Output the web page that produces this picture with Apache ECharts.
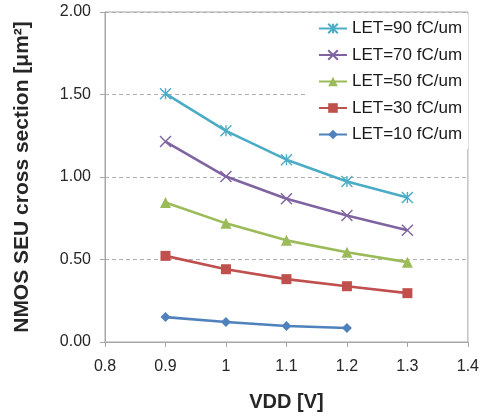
<!DOCTYPE html>
<html><head><meta charset="utf-8">
<script src="https://cdn.jsdelivr.net/npm/echarts@6/dist/echarts.min.js"></script>
<style>html,body{margin:0;padding:0;background:#fff}#c{width:482px;height:418px}</style>
</head><body><div id="c"></div>
<script>
const vdd = [0.9, 1.0, 1.1, 1.2, 1.3];
const let90 = [1.505, 1.28, 1.105, 0.973, 0.876];
const let70 = [1.215, 1.003, 0.868, 0.767, 0.677];
const let50 = [0.846, 0.719, 0.616, 0.544, 0.484];
const let30 = [0.522, 0.441, 0.381, 0.338, 0.296];
const let10 = [0.151, 0.121, 0.097, 0.085];
const names = ['LET=90 fC/um','LET=70 fC/um','LET=50 fC/um','LET=30 fC/um','LET=10 fC/um'];
const colors = ['#4bacc6','#8064a2','#9bbb59','#c0504d','#4f81bd'];
const values = [let90, let70, let50, let30, let10];
const symbols = [
  'path://M0,0 L10,10 M10,0 L0,10 M5,0 L5,10',
  'path://M0,0 L10,10 M10,0 L0,10',
  'triangle','rect','diamond'];
const sizes = [11, 11, 11, 10, 10];
const chart = echarts.init(document.getElementById('c'));
const series = values.map((vals, i) => ({
  name: names[i], type: 'line',
  data: vals.map((v, j) => [vdd[j], v]),
  symbol: symbols[i], symbolSize: sizes[i],
  lineStyle: {color: colors[i], width: 2.6},
  itemStyle: i < 2 ? {color: 'none', borderColor: colors[i], borderWidth: 1.4} : {color: colors[i], borderWidth: 0},
  emphasis: {disabled: true}, z: 10 - i
}));
chart.setOption({
  animation: false,
  grid: {left: 105, right: 12, top: 12, bottom: 76, show: true, borderColor: '#a6a6a6', borderWidth: 1},
  legend: {
    data: names, orient: 'vertical', left: 308, top: 14,
    padding: [6, 6, 6, 10], backgroundColor: '#fff',
    itemWidth: 28, itemHeight: 12, itemGap: 9.5,
    textStyle: {fontFamily: 'Liberation Sans', fontSize: 17, color: '#1a1a1a', lineHeight: 17}
  },
  xAxis: {
    type: 'value', min: 0.8, max: 1.4, interval: 0.1,
    name: 'VDD [V]', nameLocation: 'middle', nameGap: 50,
    nameTextStyle: {fontFamily: 'Liberation Sans', fontSize: 20, fontWeight: 'bold', color: '#262626'},
    axisLine: {lineStyle: {color: '#a6a6a6'}},
    axisTick: {show: true, length: 5, lineStyle: {color: '#a6a6a6'}},
    splitLine: {show: false},
    axisLabel: {fontFamily: 'Liberation Sans', fontSize: 16, color: '#262626', margin: 17,
      formatter: v => String(Number(v.toFixed(1)))}
  },
  yAxis: {
    type: 'value', min: 0, max: 2, interval: 0.5,
    name: 'NMOS SEU cross section [μm²]', nameLocation: 'middle', nameGap: 72,
    nameTextStyle: {fontFamily: 'Liberation Sans', fontSize: 21, fontWeight: 'bold', color: '#262626'},
    axisLine: {show: true, lineStyle: {color: '#a6a6a6'}},
    axisTick: {show: true, length: 5, lineStyle: {color: '#a6a6a6'}},
    splitLine: {show: true, lineStyle: {color: '#b0b0b0', type: [4, 3]}},
    axisLabel: {fontFamily: 'Liberation Sans', fontSize: 16, color: '#262626', margin: 14,
      formatter: v => v.toFixed(2)}
  },
  series: series
});
</script></body></html>
